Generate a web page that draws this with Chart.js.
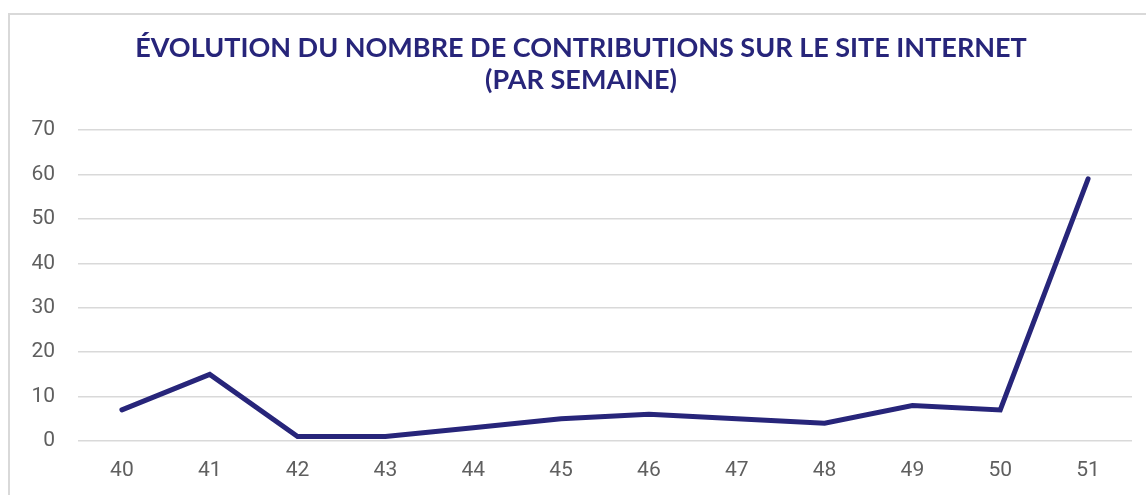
<!DOCTYPE html>
<html>
<head>
<meta charset="utf-8">
<script src="https://cdn.jsdelivr.net/npm/chart.js@4"></script>
<style>
  html, body { margin: 0; padding: 0; background: #fff; overflow: hidden; }
  .box {
    position: absolute; left: 8px; top: 13px;
    width: 1160px; height: 500px;
    border: 2px solid #d9d9d9;
  }
  .wrap { position: absolute; left: 10px; top: 15px; width: 1150px; height: 480px; }
</style>
</head>
<body>
<div class="box"></div>
<div class="wrap"><canvas id="chart"></canvas></div>
<script>
const weeks = ['40', '41', '42', '43', '44', '45', '46', '47', '48', '49', '50', '51']
const contributions = [7, 15, 1, 1, 3, 5, 6, 5, 4, 8, 7, 59]
const titleLines = ['ÉVOLUTION DU NOMBRE DE CONTRIBUTIONS SUR LE SITE INTERNET', '(PAR SEMAINE)']

const navy = '#27257a'
const grey = '#5f5f5f'

new Chart(document.getElementById('chart'), {
  type: 'line',
  data: {
    labels: weeks,
    datasets: [
      {
        label: 'Contributions',
        data: contributions,
        borderColor: navy,
        borderWidth: 5,
        pointRadius: 0,
        tension: 0,
        borderCapStyle: 'round',
        borderJoinStyle: 'miter',
      },
    ],
  },
  options: {
    responsive: true,
    maintainAspectRatio: false,
    animation: false,
    // padding keeps the title roughly centred where the reference has it
    layout: { padding: { left: 20, right: 28, top: 0, bottom: 0 } },
    plugins: {
      legend: { display: false },
      tooltip: { enabled: false },
      title: {
        display: true,
        text: titleLines,
        color: navy,
        font: { family: 'Lato', size: 27, weight: 'bold', lineHeight: 1.185 },
        padding: { top: 17, bottom: 34 },
      },
    },
    scales: {
      x: {
        offset: true,
        grid: { display: false, drawTicks: false },
        border: { display: false },
        ticks: { color: grey, font: { family: 'Roboto', size: 21 }, padding: 17, maxRotation: 0 },
        afterFit: (s) => { s.height = 54 },
      },
      y: {
        min: 0,
        max: 70,
        ticks: { stepSize: 10, color: grey, font: { family: 'Roboto', size: 21 }, padding: 23 },
        grid: { color: '#d9d9d9', lineWidth: 1.5, drawTicks: false },
        border: { display: false },
        afterFit: (s) => { s.width = 48 },
      },
    },
  },
})
</script>
</body>
</html>
